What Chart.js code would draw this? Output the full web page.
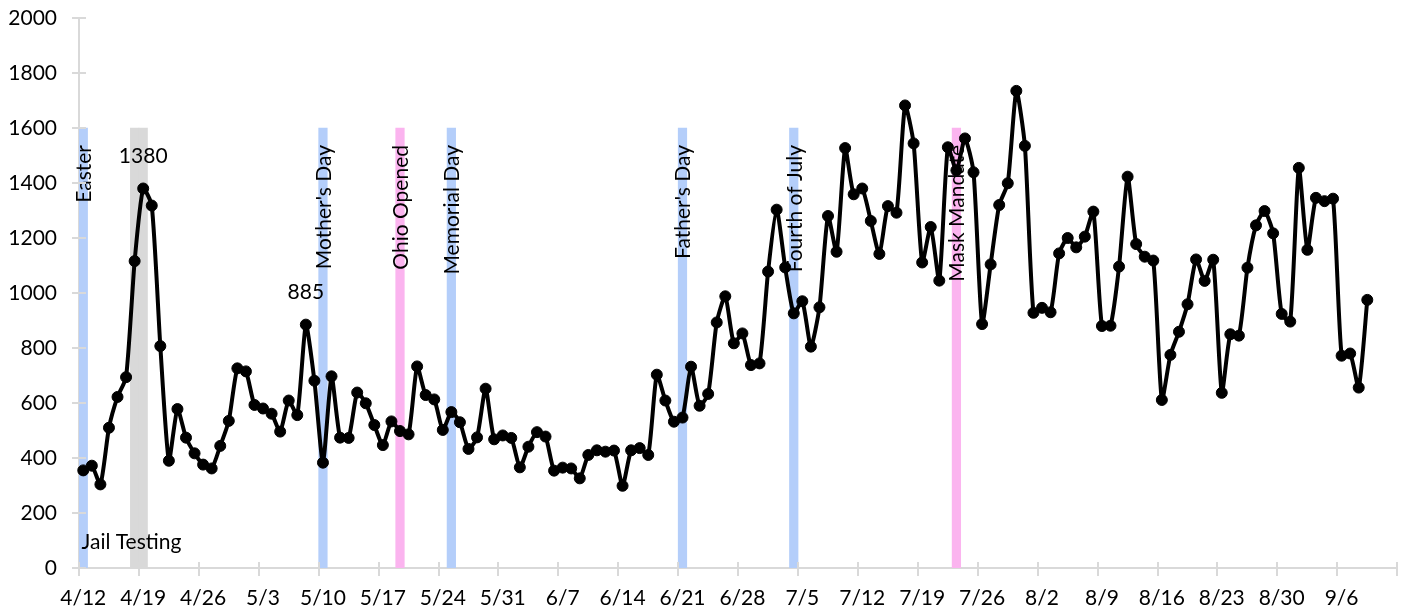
<!DOCTYPE html>
<html>
<head>
<meta charset="utf-8">
<script src="https://cdn.jsdelivr.net/npm/chart.js@4/dist/chart.umd.min.js"></script>
<style>
html, body { margin: 0; padding: 0; background: #fff; }
#wrap { width: 1411px; height: 613px; position: relative; }
</style>
</head>
<body>
<div id="wrap"><canvas id="cases"></canvas></div>
<script>
// one slot per day, 4/12 .. 9/12
var days = [
  '4/12','4/13','4/14','4/15','4/16','4/17','4/18','4/19','4/20','4/21','4/22','4/23','4/24','4/25','4/26','4/27','4/28','4/29','4/30',
  '5/1','5/2','5/3','5/4','5/5','5/6','5/7','5/8','5/9','5/10','5/11','5/12','5/13','5/14','5/15','5/16','5/17','5/18','5/19','5/20','5/21','5/22','5/23','5/24','5/25','5/26','5/27','5/28','5/29','5/30','5/31',
  '6/1','6/2','6/3','6/4','6/5','6/6','6/7','6/8','6/9','6/10','6/11','6/12','6/13','6/14','6/15','6/16','6/17','6/18','6/19','6/20','6/21','6/22','6/23','6/24','6/25','6/26','6/27','6/28','6/29','6/30',
  '7/1','7/2','7/3','7/4','7/5','7/6','7/7','7/8','7/9','7/10','7/11','7/12','7/13','7/14','7/15','7/16','7/17','7/18','7/19','7/20','7/21','7/22','7/23','7/24','7/25','7/26','7/27','7/28','7/29','7/30','7/31',
  '8/1','8/2','8/3','8/4','8/5','8/6','8/7','8/8','8/9','8/10','8/11','8/12','8/13','8/14','8/15','8/16','8/17','8/18','8/19','8/20','8/21','8/22','8/23','8/24','8/25','8/26','8/27','8/28','8/29','8/30','8/31',
  '9/1','9/2','9/3','9/4','9/5','9/6','9/7','9/8','9/9','9/10','9/11','9/12'
];
var tickEvery = 7;

var cases = [
  355, 372, 304, 510, 622, 694, 1116, 1380, 1318, 807, 390, 578, 474, 417, 376, 362, 444, 535, 726,
  715, 593, 580, 561, 496, 609, 556, 885, 681, 383, 697, 474, 473, 638, 599, 520, 447, 533, 498, 486, 733, 629, 613, 502, 567, 530, 433, 475, 652, 468, 482,
  473, 366, 441, 494, 478, 354, 365, 362, 326, 411, 428, 423, 427, 299, 428, 436, 411, 703, 609, 532, 547, 732, 590, 633, 893, 988, 817, 853, 738, 744,
  1078, 1303, 1093, 926, 970, 805, 948, 1280, 1150, 1527, 1359, 1380, 1262, 1142, 1316, 1292, 1682, 1544, 1111, 1240, 1045, 1530, 1446, 1562, 1439, 887, 1104, 1320, 1399, 1735, 1535,
  928, 946, 930, 1144, 1200, 1166, 1205, 1296, 880, 881, 1096, 1423, 1178, 1132, 1118, 611, 775, 859, 959, 1122, 1044, 1121, 637, 850, 845, 1092, 1246, 1298, 1217, 924, 896,
  1455, 1157, 1346, 1334, 1343, 772, 780, 656, 975
];

var markerDays = ['4/12', '5/10', '5/19', '5/25', '6/21', '7/4', '7/23'];
var markerNames = ['Easter', "Mother's Day", 'Ohio Opened', 'Memorial Day', "Father's Day", 'Fourth of July', 'Mask Mandate'];
var markerColors = ['#B4CEFA', '#B4CEFA', '#FBB4EF', '#B4CEFA', '#B4CEFA', '#B4CEFA', '#FBB4EF'];
var jailDays = ['4/18', '4/19'];
var jailName = 'Jail Testing';
var jailColor = '#D9D9D9';
var markerTop = 1600;
var calloutDays = ['4/19', '5/8'];

var yMin = 0, yMax = 2000, yStep = 200;

var FONT = 'Lato, "Open Sans", sans-serif';
var axisGray = '#D9D9D9';

var markerBars = days.map(function (d) {
  return (markerDays.indexOf(d) >= 0 || jailDays.indexOf(d) >= 0) ? markerTop : null;
});
var markerBarColors = days.map(function (d) {
  var k = markerDays.indexOf(d);
  if (k >= 0) return markerColors[k];
  return jailColor;
});

var extras = {
  id: 'extras',
  afterDatasetDraw: function (chart, args) {
    // event names sit over the bars but under the line
    if (args.meta.type !== 'bar') return;
    var ctx = chart.ctx, x = chart.scales.x, y = chart.scales.y;
    ctx.save();
    ctx.fillStyle = '#000';
    ctx.font = '21px ' + FONT;
    ctx.textAlign = 'right';
    ctx.textBaseline = 'middle';
    markerDays.forEach(function (d, k) {
      var px = x.getPixelForValue(days.indexOf(d));
      var py = y.getPixelForValue(markerTop) + 17;
      ctx.save();
      ctx.translate(px + 1, py);
      ctx.rotate(-Math.PI / 2);
      ctx.fillText(markerNames[k], 0, 0);
      ctx.restore();
    });
    ctx.restore();
  },
  afterDatasetsDraw: function (chart) {
    var ctx = chart.ctx, x = chart.scales.x, y = chart.scales.y, area = chart.chartArea;
    ctx.save();
    ctx.fillStyle = '#000';
    ctx.font = '21px ' + FONT;
    ctx.textAlign = 'center';
    ctx.textBaseline = 'middle';
    calloutDays.forEach(function (d) {
      var i = days.indexOf(d);
      ctx.fillText(String(cases[i]), x.getPixelForValue(i), y.getPixelForValue(cases[i]) - 32);
    });
    ctx.textAlign = 'left';
    ctx.fillText(jailName, area.left + 2.5, y.getPixelForValue(95));

    // tick marks crossing both axes
    ctx.strokeStyle = axisGray;
    ctx.lineWidth = 2;
    ctx.beginPath();
    var slot = (area.right - area.left) / days.length;
    for (var i = 0; i <= days.length; i += tickEvery) {
      var tx = Math.round(area.left + i * slot);
      ctx.moveTo(tx, area.bottom - 6);
      ctx.lineTo(tx, area.bottom + 8);
    }
    for (var v = yMin; v <= yMax; v += yStep) {
      var ty = Math.round(y.getPixelForValue(v));
      ctx.moveTo(area.left - 7, ty);
      ctx.lineTo(area.left + 7, ty);
    }
    ctx.stroke();
    ctx.restore();
  }
};

var ctx = document.getElementById('cases').getContext('2d');
var chart = new Chart(ctx, {
  data: {
    labels: days,
    datasets: [{
      type: 'line',
      label: 'Cases',
      data: cases,
      borderColor: '#000',
      backgroundColor: '#000',
      borderWidth: 4,
      pointRadius: 5.5,
      pointBorderWidth: 1,
      pointBackgroundColor: '#000',
      pointBorderColor: '#000',
      tension: 0.2,
      borderJoinStyle: 'round',
      borderCapStyle: 'round'
    }, {
      type: 'bar',
      label: 'Events',
      data: markerBars,
      backgroundColor: markerBarColors,
      borderWidth: 0,
      barPercentage: 1,
      categoryPercentage: 1
    }]
  },
  options: {
    responsive: true,
    maintainAspectRatio: false,
    animation: false,
    layout: { padding: { left: 0, right: 9, top: 18, bottom: 0 } },
    plugins: {
      legend: { display: false },
      title: { display: false },
      tooltip: { enabled: false }
    },
    scales: {
      x: {
        type: 'category',
        offset: true,
        grid: { display: false, drawTicks: false },
        border: { display: true, color: axisGray, width: 2 },
        ticks: {
          autoSkip: false,
          maxRotation: 0,
          minRotation: 0,
          padding: 18,
          color: '#000',
          font: { family: FONT, size: 21 },
          callback: function (val, i) { return i % tickEvery === 0 ? days[i] : ''; }
        },
        afterFit: function (s) { s.height = 45; s.paddingTop = 0; s.paddingBottom = 0; }
      },
      y: {
        min: yMin,
        max: yMax,
        grid: { display: false, drawTicks: false },
        border: { display: true, color: axisGray, width: 2 },
        ticks: {
          stepSize: yStep,
          padding: 22,
          color: '#000',
          font: { family: FONT, size: 21 },
          callback: function (v) { return String(v); }
        },
        afterFit: function (s) { s.width = 79; s.paddingTop = 0; s.paddingBottom = 0; }
      }
    }
  },
  plugins: [extras]
});
</script>
</body>
</html>
